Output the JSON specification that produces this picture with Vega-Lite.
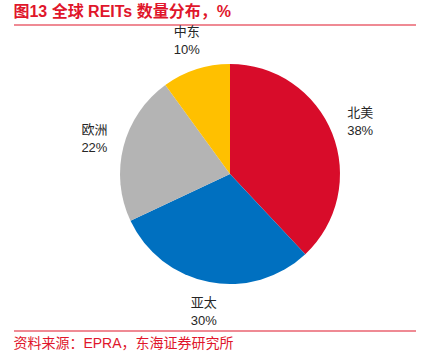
{
  "$schema": "https://vega.github.io/schema/vega-lite/v6.json",
  "padding": {"left": 13, "top": 4, "right": 0, "bottom": 0},
  "background": "#ffffff",
  "title": {
    "text": "图13  全球 REITs 数量分布，%",
    "anchor": "start",
    "orient": "top",
    "fontSize": 16,
    "fontWeight": "bold",
    "color": "#E0162B",
    "font": "Liberation Sans, Noto Sans CJK SC",
    "offset": 4
  },
  "vconcat": [
    {
      "width": 402,
      "height": 306,
      "view": {"stroke": null},
      "title": {
        "text": "资料来源：EPRA，东海证券研究所",
        "orient": "bottom",
        "anchor": "start",
        "fontSize": 14,
        "fontWeight": "normal",
        "color": "#E0162B",
        "font": "Liberation Sans, Noto Sans CJK SC",
        "offset": 5
      },
      "data": {
        "values": [
          {"region": "北美", "share": 0.38, "rank": 1},
          {"region": "亚太", "share": 0.30, "rank": 2},
          {"region": "欧洲", "share": 0.22, "rank": 3},
          {"region": "中东", "share": 0.10, "rank": 4}
        ]
      },
      "layer": [
        {
          "data": {"values": [{}]},
          "mark": {"type": "rule", "color": "#E0162B", "strokeWidth": 1.2},
          "encoding": {
            "y": {"datum": 1, "type": "quantitative", "scale": {"domain": [0, 1], "nice": false, "zero": false}, "axis": null}
          }
        },
        {
          "data": {"values": [{}]},
          "mark": {"type": "rule", "color": "#E0162B", "strokeWidth": 1.2},
          "encoding": {
            "y": {"datum": 0, "type": "quantitative"}
          }
        },
        {
          "mark": {"type": "arc", "outerRadius": 110, "x": 216, "y": 149},
          "encoding": {
            "theta": {"field": "share", "type": "quantitative", "stack": true},
            "order": {"field": "rank", "type": "quantitative"},
            "color": {
              "field": "region",
              "type": "nominal",
              "scale": {"domain": ["北美", "亚太", "欧洲", "中东"], "range": ["#D80C2A", "#0070C0", "#B4B4B4", "#FFC000"]},
              "legend": null
            }
          }
        },
        {
          "mark": {"type": "text", "radius": 140, "x": 216, "y": 149, "dy": -9, "fontSize": 13, "color": "#262626", "font": "Liberation Sans, Noto Sans CJK SC"},
          "encoding": {
            "theta": {"field": "share", "type": "quantitative", "stack": true},
            "order": {"field": "rank", "type": "quantitative"},
            "detail": {"field": "region", "type": "nominal"},
            "text": {"field": "region", "type": "nominal"}
          }
        },
        {
          "mark": {"type": "text", "radius": 140, "x": 216, "y": 149, "dy": 9, "fontSize": 13, "color": "#262626", "font": "Liberation Sans, Noto Sans CJK SC"},
          "encoding": {
            "theta": {"field": "share", "type": "quantitative", "stack": true},
            "order": {"field": "rank", "type": "quantitative"},
            "detail": {"field": "region", "type": "nominal"},
            "text": {"field": "share", "type": "quantitative", "format": ".0%"}
          }
        }
      ]
    }
  ]
}
